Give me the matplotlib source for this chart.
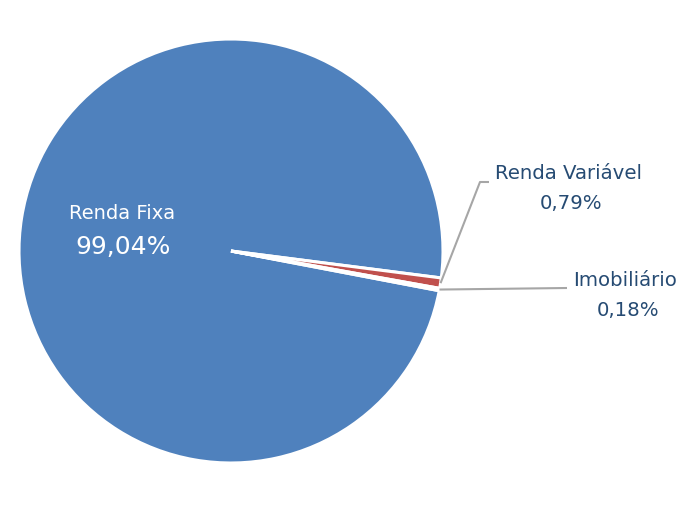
import matplotlib
matplotlib.use("Agg")
import matplotlib.pyplot as plt
import numpy as np

categories = ["Renda Fixa", "Renda Variável", "Imobiliário"]
shares = [99.04, 0.79, 0.18]
share_labels = ["99,04%", "0,79%", "0,18%"]
colors = ["#4F81BD", "#C0504D", "#A5A5A5"]

plt.rcParams['font.family'] = ['DejaVu Sans']

fig = plt.figure(figsize=(6.85, 5.05), dpi=100)
ax = fig.add_axes([0, 0, 1, 1])

# pixel -> data helper (pie centre at 231,251 px, radius 212 px)
def px(x, y):
    return (x - 231) / 212, (251 - y) / 212

wedges, _ = ax.pie(shares, colors=colors, startangle=-10.8, counterclock=False,
                   radius=1, wedgeprops=dict(edgecolor="white", linewidth=2.2))

xmin, ymax = px(0, 0)
xmax, ymin = px(685, 505)
ax.set_xlim(xmin, xmax)
ax.set_ylim(ymin, ymax)
ax.set_aspect('equal', adjustable='box')
ax.axis('off')

txt = "#264B73"
lead = "#A6A6A6"

# Renda Fixa label inside
ax.text(*px(122, 214), categories[0], color="white", fontsize=14, ha="center", va="center")
ax.text(*px(123, 247), share_labels[0], color="white", fontsize=18, ha="center", va="center")

def mid_point(w):
    a = np.deg2rad((w.theta1 + w.theta2) / 2)
    return np.cos(a) * w.r, np.sin(a) * w.r

# Renda Variável
x0, y0 = mid_point(wedges[1])
ex, ey = px(480, 182)
hx, hy = px(489, 182)
ax.plot([x0, ex, hx], [y0, ey, hy], color=lead, lw=1.5, solid_capstyle="butt")
ax.text(*px(568, 174), categories[1], color=txt, fontsize=14.2, ha="center", va="center")
ax.text(*px(571, 204), share_labels[1], color=txt, fontsize=14.2, ha="center", va="center")

# Imobiliário
x0, y0 = mid_point(wedges[2])
hx, hy = px(567, 288)
ax.plot([x0, hx], [y0, hy], color=lead, lw=1.5, solid_capstyle="butt")
ax.text(*px(625, 281), categories[2], color=txt, fontsize=14.2, ha="center", va="center")
ax.text(*px(628, 311), share_labels[2], color=txt, fontsize=14.2, ha="center", va="center")

fig.savefig("out.png", dpi=100)
